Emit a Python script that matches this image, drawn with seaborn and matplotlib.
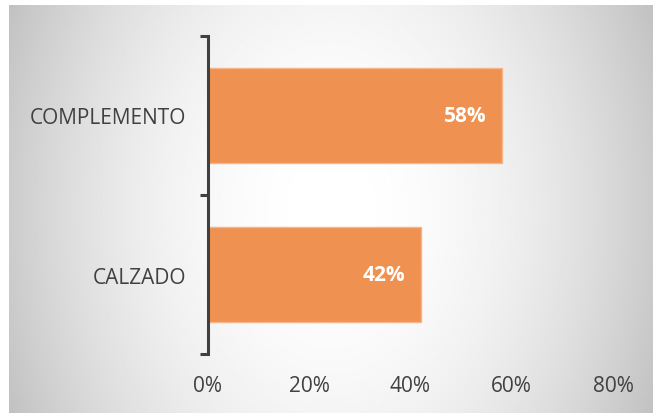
import matplotlib

matplotlib.use("Agg")
import matplotlib.pyplot as plt
import numpy as np
import seaborn as sns

categories = ["COMPLEMENTO", "CALZADO"]
values = [0.58, 0.42]
x_ticks = [0.0, 0.2, 0.4, 0.6, 0.8]
x_tick_labels = ["0%", "20%", "40%", "60%", "80%"]

BAR = "#EF9150"
TEXT = "#404040"

sns.set_theme(style="white")
plt.rcParams["font.family"] = ["Open Sans", "DejaVu Sans"]

fig = plt.figure(figsize=(6.53, 4.14), dpi=100)

# radial grey backdrop (white in the middle, darker towards the sides)
bg = fig.add_axes([9 / 653, 0, 1 - 9 / 653, 1 - 6 / 414], zorder=-1)
gx, gy = np.meshgrid(np.linspace(-1, 1, 400), np.linspace(-1, 1, 300))
dist2 = gx ** 2 + (gy / 2.2) ** 2
shade = 1 - 0.2 * dist2
bg.imshow(shade, cmap="gray", vmin=0, vmax=1, aspect="auto", extent=(0, 1, 0, 1))
bg.set_axis_off()

ax = fig.add_axes([208 / 653, 1 - 355 / 414, (613 - 208) / 653, (355 - 37) / 414])
ax.set_facecolor("none")

sns.barplot(x=values, y=categories, orient="h", color=BAR, width=0.6,
            edgecolor="#F5B489", linewidth=1, saturation=1, ax=ax)

for v, cat in zip(values, categories):
    ax.annotate(f"{v:.0%}", xy=(v, cat), xytext=(-11, 0), textcoords="offset points",
                ha="right", va="center", color="white", fontsize=15, fontweight="bold")

ax.set_xlim(0, 0.8)
ax.set_ylim(1.5, -0.5)
ax.set_xticks(x_ticks)
ax.set_xticklabels(x_tick_labels)
ax.tick_params(axis="x", length=0, pad=15, labelsize=15, labelcolor=TEXT)

# category boundaries as ticks, labels centred between them
ax.set_yticks([-0.5, 0.5, 1.5])
ax.set_yticklabels([])
ax.set_yticks([0, 1], minor=True)
ax.set_yticklabels(categories, minor=True)
ax.tick_params(axis="y", which="major", left=True, length=6, width=2.2, color=TEXT, direction="out")
ax.tick_params(axis="y", which="minor", left=True, length=0, pad=16, labelsize=15, labelcolor=TEXT)

for side in ["top", "right", "bottom"]:
    ax.spines[side].set_visible(False)
ax.spines["left"].set_color(TEXT)
ax.spines["left"].set_linewidth(2.2)
ax.set_xlabel("")
ax.set_ylabel("")

fig.savefig("out.png", dpi=100)
